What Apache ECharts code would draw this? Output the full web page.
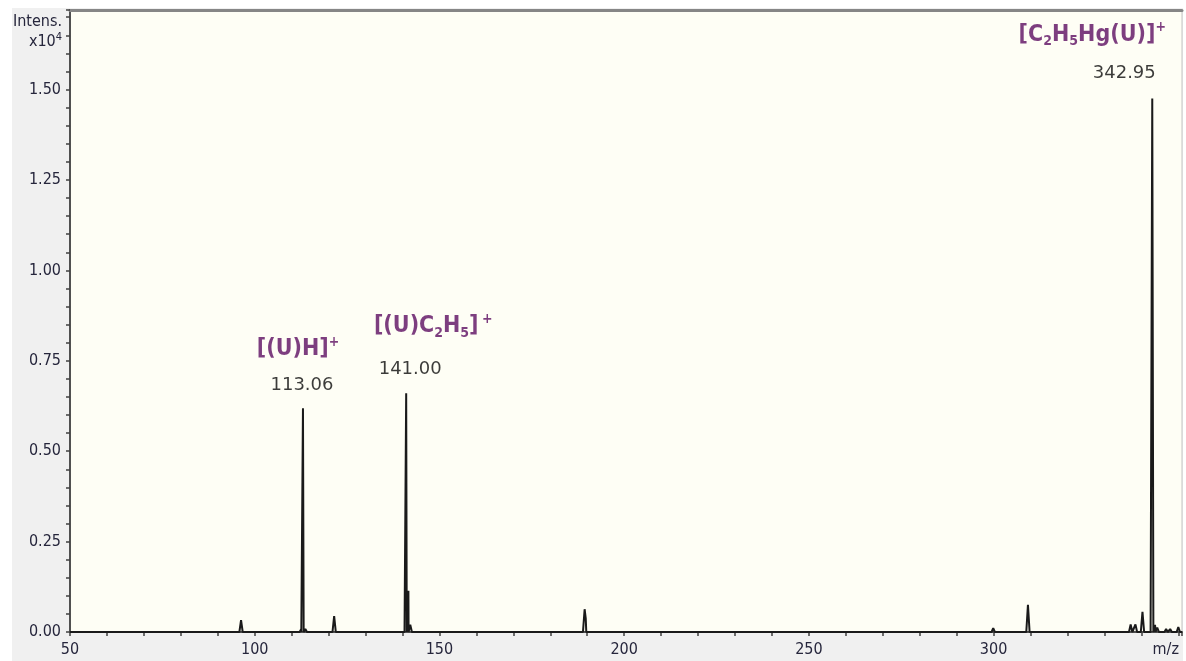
<!DOCTYPE html>
<html>
<head>
<meta charset="utf-8">
<script src="https://cdn.jsdelivr.net/npm/echarts@6/dist/echarts.min.js"></script>
<style>
html,body{margin:0;padding:0;background:#ffffff;}
#chart{width:1186px;height:661px;}
</style>
</head>
<body>
<div id="chart"></div>
<script>
// ---- data ----
const peakMz =        [96.3, 112.6, 113.06, 113.7, 121.5, 141.00, 141.6, 142.1, 154.1, 189.3, 189.6, 299.9, 309.3, 328.6, 337.1, 338.4, 340.3, 342.95, 343.7, 344.3, 346.7, 347.8, 350.0];
const peakIntensity = [0.033, 0.008, 0.619, 0.008, 0.044, 0.660, 0.114, 0.020, 0.004, 0.063, 0.038, 0.011, 0.075, 0.003, 0.021, 0.021, 0.056, 1.475, 0.020, 0.012, 0.008, 0.008, 0.014];

const labelMz = [113.06, 141.00, 342.95];
const labelIntensity = [0.619, 0.660, 1.475];
const labelNumbers = ['113.06', '141.00', '342.95'];
const labelFormulas = [
  '{f|[(U)H]}{sup|+}',
  '{f|[(U)C}{sub|2}{f|H}{sub|5}{f|]} {sup|+}',
  '{f|[C}{sub|2}{f|H}{sub|5}{f|Hg(U)]}{sup|+}'
];

const xMin = 50, xMax = 351;
const yMin = 0, yMax = 1.72;

// ---- build profile line from peaks ----
const halfWidth = 0.45;
const pts = [];
peakMz.forEach((m, i) => {
  pts.push([m - halfWidth, 0]);
  pts.push([m, peakIntensity[i]]);
  pts.push([m + halfWidth, 0]);
});
pts.sort((a, b) => a[0] - b[0]);
const lineData = [[xMin, 0]].concat(pts).concat([[xMax, 0]]);

const numberOffsets = [[-1, -23], [4, -24], [-28, -25]];
const formulaOffsets = [[-5, -59], [27, -67], [-60, -64]];

const tickColor = '#26263c';
const condensed = "'DejaVu Sans Condensed', 'DejaVu Sans', sans-serif";
const purple = '#5c0e62';

const chart = echarts.init(document.getElementById('chart'), null, {renderer: 'canvas'});
chart.setOption({
  backgroundColor: '#f0f0f0',
  animation: false,
  graphic: [
    {type: 'rect', left: 0, top: 0, shape: {width: 12, height: 661}, style: {fill: '#ffffff'}, silent: true},
    {type: 'rect', left: 0, top: 0, shape: {width: 1186, height: 8}, style: {fill: '#ffffff'}, silent: true},
    {type: 'rect', left: 1183, top: 0, shape: {width: 3, height: 661}, style: {fill: '#ffffff'}, silent: true}
  ],
  grid: {
    left: 70, right: 4, top: 10, bottom: 29,
    show: true, backgroundColor: '#fefef5', borderColor: '#c4c4c4', borderWidth: 1
  },
  xAxis: [{
    type: 'value', min: xMin, max: xMax, interval: 10,
    name: 'm/z', nameLocation: 'end', nameGap: -3,
    nameTextStyle: {align: 'right', verticalAlign: 'top', padding: [10, 0, 0, 0], fontFamily: condensed, fontSize: 16, color: tickColor},
    axisLine: {show: true, onZero: false, lineStyle: {color: '#505050', width: 2}},
    axisTick: {show: true, length: 4, interval: 0, lineStyle: {color: '#404040', width: 1.5}},
    axisLabel: {
      interval: 0, margin: 10, fontFamily: condensed, fontSize: 16, color: tickColor,
      formatter: v => (Math.abs(v % 50) < 1e-6 && v <= 300) ? String(Math.round(v)) : ''
    },
    splitLine: {show: false}
  }, {
    type: 'value', position: 'top', min: xMin, max: xMax,
    axisLine: {show: true, onZero: false, lineStyle: {color: '#868686', width: 3}},
    axisTick: {show: false}, axisLabel: {show: false}, splitLine: {show: false}
  }],
  yAxis: {
    type: 'value', min: yMin, max: yMax, interval: 0.05,
    name: '{a|Intens.}\n{a|x10}{s|4}', nameLocation: 'end', nameGap: -2,
    nameTextStyle: {
      align: 'right', verticalAlign: 'top', padding: [0, 8, 0, 0],
      rich: {
        a: {fontFamily: condensed, fontSize: 16, color: tickColor, lineHeight: 20, verticalAlign: 'middle'},
        s: {fontFamily: condensed, fontSize: 11, color: tickColor, lineHeight: 20, verticalAlign: 'top'}
      }
    },
    axisLine: {show: true, onZero: false, lineStyle: {color: '#505050', width: 2}},
    axisTick: {show: true, length: 4, interval: 0, lineStyle: {color: '#404040', width: 1.5}},
    axisLabel: {
      interval: 0, margin: 9, fontFamily: condensed, fontSize: 16, color: tickColor,
      formatter: v => { const k = v / 0.25; return Math.abs(k - Math.round(k)) < 1e-6 ? v.toFixed(2) : ''; }
    },
    splitLine: {show: false}
  },
  series: [{
    type: 'line', xAxisIndex: 0, data: lineData, showSymbol: false, symbol: 'none',
    lineStyle: {color: '#1a1a1a', width: 2}, silent: true, z: 3
  }, {
    type: 'scatter', xAxisIndex: 0, symbolSize: 0, silent: true, z: 5,
    data: labelMz.map((m, i) => ({
      value: [m, labelIntensity[i]],
      label: {
        show: true, position: 'inside', offset: numberOffsets[i],
        formatter: labelNumbers[i],
        fontFamily: "'DejaVu Sans', sans-serif", fontSize: 18, color: '#0a0a0a'
      }
    }))
  }, {
    type: 'scatter', xAxisIndex: 0, symbolSize: 0, silent: true, z: 5,
    data: labelMz.map((m, i) => ({
      value: [m, labelIntensity[i]],
      label: {
        show: true, position: 'inside', offset: formulaOffsets[i],
        formatter: labelFormulas[i],
        rich: {
          f: {fontFamily: condensed, fontWeight: 'bold', fontSize: 23, color: purple, lineHeight: 28, verticalAlign: 'middle'},
          sub: {fontFamily: condensed, fontWeight: 'bold', fontSize: 14, color: purple, lineHeight: 28, verticalAlign: 'bottom'},
          sup: {fontFamily: condensed, fontWeight: 'bold', fontSize: 14, color: purple, lineHeight: 28, verticalAlign: 'top'}
        }
      }
    }))
  }]
});
</script>
</body>
</html>
